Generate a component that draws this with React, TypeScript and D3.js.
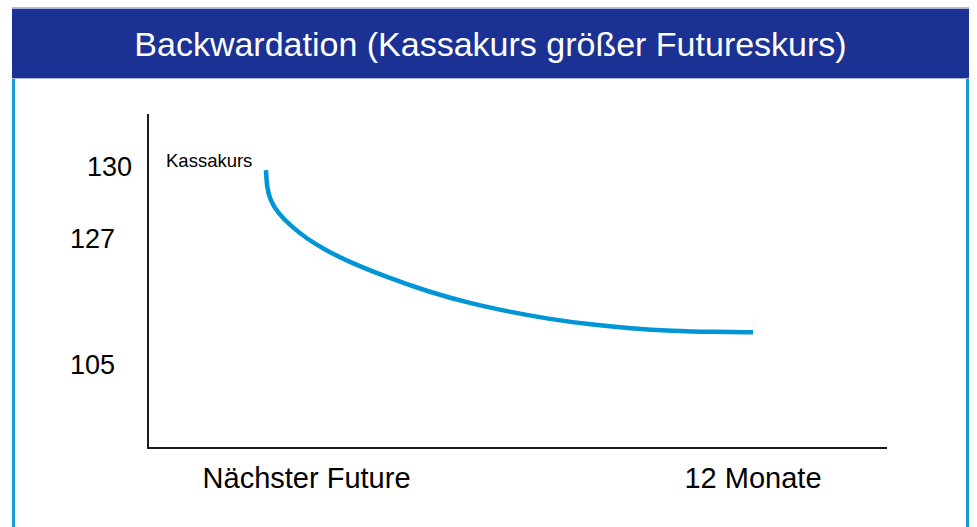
import { useEffect, useRef } from "react"
import * as d3 from "d3"

// months after today and the price
const months = [0, 0.02, 0.1, 0.3, 0.6, 1, 1.5, 2, 3, 4, 5, 6, 7, 8, 9, 10, 11, 12]
const prices = [129.83, 129.14, 128.58, 128.03, 127.52, 126.88, 124.77, 122.97, 120.09, 117.62, 115.63, 114.1, 112.82, 111.88, 111.2, 110.78, 110.6, 110.53]

const yTicks = [130, 127, 105]
const xTickMonths = [1, 12]
const xTickLabels = ["Nächster Future", "12 Monate"]
const title = "Backwardation (Kassakurs größer Futureskurs)"
const curveLabel = "Kassakurs"

const W = 977, H = 527
const font = "'Liberation Sans', Arial, sans-serif"

const App = () => {
    const ref = useRef<SVGSVGElement>(null)

    useEffect(() => {
        const svg = d3.select(ref.current)
        svg.selectAll("*").remove()

        // frame
        svg.append("rect")
            .attr("x", 13.5).attr("y", 9)
            .attr("width", 954).attr("height", 540)
            .attr("fill", "#fff")
            .attr("stroke", "#1a9bd7")
            .attr("stroke-width", 3)

        // header band
        svg.append("rect")
            .attr("x", 12).attr("y", 8)
            .attr("width", 957).attr("height", 70)
            .attr("fill", "#1b3294")
        svg.append("line")
            .attr("x1", 12).attr("x2", 969).attr("y1", 8.5).attr("y2", 8.5)
            .attr("stroke", "#aab1db")
        svg.append("line")
            .attr("x1", 12).attr("x2", 969).attr("y1", 78.5).attr("y2", 78.5)
            .attr("stroke", "#aab1db")
        svg.append("text")
            .attr("x", 490.5).attr("y", 56)
            .attr("text-anchor", "middle")
            .attr("fill", "#fff")
            .style("font-family", font)
            .style("font-size", "34px")
            .text(title)

        const x = d3.scaleLinear().domain([0, 12]).range([266, 753])
        // the picture's value axis is not linear, so the labels are placed piecewise
        const y = d3.scaleLinear().domain([105, 127, 130]).range([364, 238, 166])

        // axes
        svg.append("path")
            .attr("d", "M148,114V448H887")
            .attr("fill", "none")
            .attr("stroke", "#1a1a1a")
            .attr("stroke-width", 2)

        const yDx: Record<number, number> = { 130: 17 }
        svg.append("g").selectAll("text")
            .data(yTicks)
            .enter()
            .append("text")
            .attr("x", d => 115 + (yDx[d] || 0))
            .attr("y", d => y(d) + 10)
            .attr("text-anchor", "end")
            .attr("fill", "#000")
            .style("font-family", font)
            .style("font-size", "27px")
            .text(d => d)

        svg.append("g").selectAll("text")
            .data(xTickMonths)
            .enter()
            .append("text")
            .attr("x", d => x(d))
            .attr("y", 488)
            .attr("text-anchor", "middle")
            .attr("fill", "#000")
            .style("font-family", font)
            .style("font-size", "29px")
            .text((d, i) => xTickLabels[i])

        const pts = months.map((m, i) => [m, prices[i]] as [number, number])
        svg.append("path")
            .datum(pts)
            .attr("fill", "none")
            .attr("stroke", "#0095d4")
            .attr("stroke-width", 4.5)
            .attr("d", d3.line<[number, number]>()
                .curve(d3.curveBasis)
                .x(d => x(d[0]))
                .y(d => y(d[1])))

        svg.append("text")
            .attr("x", 166).attr("y", 167)
            .attr("fill", "#000")
            .style("font-family", font)
            .style("font-size", "18.5px")
            .text(curveLabel)
    }, [])

    return <svg ref={ref} width={W} height={H}
        style={{ position: "absolute", left: 0, top: 0, background: "#fff" }} />
}

export default App
